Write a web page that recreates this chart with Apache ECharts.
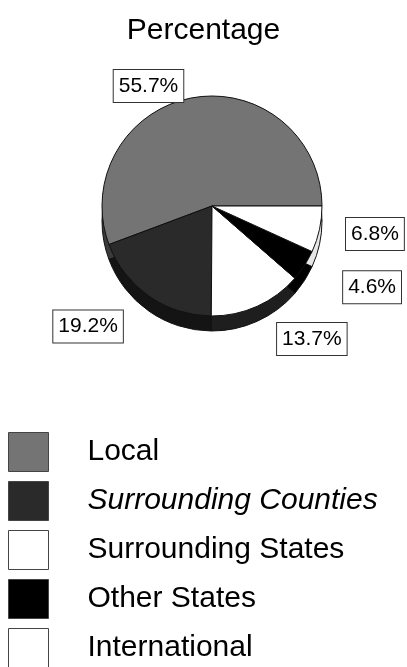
<!DOCTYPE html>
<html><head><meta charset="utf-8">
<script src="https://cdn.jsdelivr.net/npm/echarts@6/dist/echarts.min.js"></script>
<style>html,body{margin:0;padding:0;background:#fff}#c{width:407px;height:667px}</style>
</head><body><div id="c"></div>
<script>
const categories = ['Local', 'Surrounding Counties', 'Surrounding States', 'Other States', 'International'];
const values = [55.7, 19.2, 13.7, 4.6, 6.8];
const topColors = ['#747474', '#2a2a2a', '#ffffff', '#000000', '#ffffff'];
const sideColors = ['#3a3a3a', '#141414', '#1e1e1e', '#000000', '#e6e6e6'];
const italicNames = ['Surrounding Counties'];
// label leader lengths (style only, no coordinates)
const labelLen = [12, 37, 36, 40, 22];
const labelLen2 = [2, 0, 0, 0, 0];

const FONT = "'Liberation Sans', Arial, sans-serif";
const chart = echarts.init(document.getElementById('c'), null, {renderer: 'canvas'});

const topData = categories.map((n, i) => ({
  name: n, value: values[i],
  itemStyle: {color: topColors[i], borderColor: '#111', borderWidth: 1},
  labelLine: {show: false, length: labelLen[i], length2: labelLen2[i]}
}));
const sideData = categories.map((n, i) => ({
  name: n, value: values[i],
  itemStyle: {color: sideColors[i], borderColor: '#111', borderWidth: 1}
}));

chart.setOption({
  animation: false,
  backgroundColor: '#fff',
  title: {
    text: 'Percentage', left: 'center', top: 11,
    textStyle: {fontFamily: FONT, fontSize: 30, fontWeight: 'normal', color: '#000'}
  },
  legend: {
    data: categories.map((n, i) => ({
      name: n,
      itemStyle: {color: topColors[i], borderColor: '#444', borderWidth: 1}
    })),
    orient: 'vertical', left: 8, top: 432, height: 300, padding: 0,
    icon: 'rect', itemWidth: 40, itemHeight: 39, itemGap: 9,
    selectedMode: false,
    formatter: n => (italicNames.includes(n) ? '{i|' + n + '}' : '{n|' + n + '}'),
    textStyle: {
      fontFamily: FONT, fontSize: 30, color: '#000',
      rich: {
        n: {fontFamily: FONT, fontSize: 30, color: '#000', padding: [0, 0, 0, 34]},
        i: {fontFamily: FONT, fontSize: 30, color: '#000', fontStyle: 'italic', padding: [0, 0, 0, 34]}
      }
    }
  },
  series: [
    {
      type: 'pie', name: 'top', z: 3,
      center: [212, 206], radius: 110,
      startAngle: 0, clockwise: false,
      data: topData,
      emphasis: {disabled: true},
      label: {
        show: true, position: 'outside', bleedMargin: 1,
        formatter: p => p.value.toFixed(1) + '%',
        fontFamily: FONT, fontSize: 21, color: '#000',
        backgroundColor: '#fff', borderColor: '#333', borderWidth: 1,
        padding: [6, 5, 5, 5]
      },
      labelLine: {show: false}
    },
    {
      type: 'pie', name: 'side', z: 1, silent: true,
      center: [212, 221], radius: 110,
      startAngle: 0, clockwise: false,
      data: sideData,
      emphasis: {disabled: true},
      label: {show: false}, labelLine: {show: false}
    }
  ]
});
</script></body></html>
